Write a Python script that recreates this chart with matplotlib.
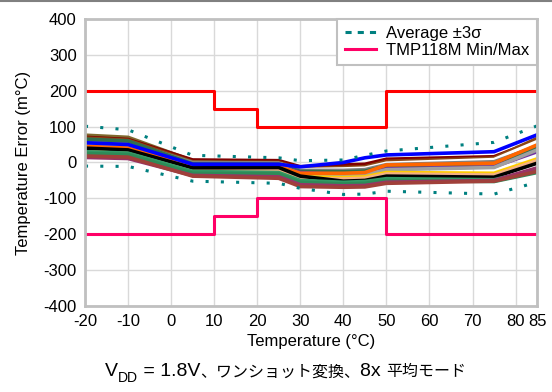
import matplotlib
matplotlib.use("Agg")
import matplotlib.pyplot as plt
from matplotlib.lines import Line2D

plt.rcParams['font.family'] = ['Liberation Sans', 'Noto Sans CJK JP']
plt.rcParams['axes.unicode_minus'] = False

# temperature points of the measured units
temps = [-20, -10, 5, 25, 30, 40, 45, 50, 75, 85]

# one line per device (m°C)
units = [
    ('#7f6a2e', [76, 70, 5, 3, -15, -15, -13, 0, 5, 55]),
    ('#800000', [70, 64, 7, 5, -12, -7, -5, 9, 16, 62]),
    ('#8b4513', [68, 62, 2, 0, -18, -14, -12, 3, 12, 67]),
    ('#ffffff', [58, 52, -2, -3, -20, -18, -16, -2, 8, 58]),
    ('#808080', [62, 56, 0, -2, -22, -22, -20, -6, 2, 45]),
    ('#2f6f4f', [65, 60, -4, -5, -25, -26, -24, -10, -3, 40]),
    ('#7030a0', [50, 45, -10, -10, -28, -33, -31, -18, -12, 30]),
    ('#a0a0a0', [52, 47, -8, -9, -32, -36, -34, -20, -14, 35]),
    ('#ff6600', [45, 40, -12, -12, -30, -30, -28, -7, -2, 49]),
    ('#ffcc00', [36, 32, -20, -22, -40, -42, -40, -28, -30, 10]),
    ('#f4b183', [30, 27, -18, -20, -45, -46, -44, -32, -35, 5]),
    ('#000000', [40, 35, -15, -14, -38, -52, -50, -38, -41, -2]),
    ('#339966', [30, 26, -25, -28, -50, -55, -53, -45, -48, -20]),
    ('#2e8b57', [25, 22, -30, -32, -55, -60, -58, -50, -53, -28]),
    ('#993366', [14, 11, -36, -40, -62, -65, -64, -55, -50, -15]),
    ('#a0403a', [18, 15, -38, -44, -67, -69, -68, -58, -52, -25]),
    ('#0000ff', [55, 50, -5, -5, -12, 0, 13, 21, 30, 77]),
]

avg_hi = [101, 91, 20, 13, 5, 7, 20, 32, 56, 102]
avg_lo = [-10, -11, -52, -58, -72, -89, -88, -80, -88, -55]

# TMP118M spec limits
lim_x = [-20, 10, 20, 50, 85]
lim_hi = [200, 150, 100, 200, 200]
lim_lo = [-200, -150, -100, -200, -200]

xticks = [-20, -10, 0, 10, 20, 30, 40, 50, 60, 70, 80, 85]
yticks = list(range(-400, 401, 100))

fig = plt.figure(figsize=(5.52, 3.92), dpi=100)
ax = fig.add_axes([0.154, 0.219, 0.819, 0.733])

for color, vals in units:
    ax.plot(temps, vals, color=color, lw=2.6, solid_joinstyle='round')

ax.plot(temps, avg_hi, color='#008080', lw=2.2, linestyle=(0, (1, 4)), dash_capstyle='butt')
ax.plot(temps, avg_lo, color='#008080', lw=2.2, linestyle=(0, (1, 4)), dash_capstyle='butt')

ax.plot(lim_x, lim_hi, color='#ff0000', lw=2.2, drawstyle='steps-post')
ax.plot(lim_x, lim_lo, color='#ff0066', lw=2.2, drawstyle='steps-post')

ax.set_xlim(-20, 85)
ax.set_ylim(-400, 400)
ax.set_xticks(xticks)
ax.set_yticks(yticks)
ax.tick_params(length=0, labelsize=12, pad=6)
ax.grid(True, color='#d9d9d9', lw=1)
ax.set_axisbelow(True)
for s in ax.spines.values():
    s.set_color('#c0c0c0')
    s.set_linewidth(2)

ax.set_xlabel('Temperature (°C)', fontsize=12, labelpad=3)
ax.set_ylabel('Temperature Error (m°C)', fontsize=12, labelpad=9)

handles = [
    Line2D([], [], color='#008080', lw=2.2, linestyle=(0, (2, 2))),
    Line2D([], [], color='#ff0066', lw=2.2),
]
leg = ax.legend(handles, ['Average ±3σ', 'TMP118M Min/Max'], loc='upper right',
                bbox_to_anchor=(1, 1), borderaxespad=0, fontsize=12,
                fancybox=False, framealpha=1, handlelength=1.9,
                labelspacing=0.1, borderpad=0.45, handletextpad=0.6)
leg.get_frame().set_edgecolor('#c0c0c0')
leg.get_frame().set_linewidth(1.5)

# caption, built piece by piece so the subscript and CJK sizes can differ
base_y = 0.04
pieces = [('DD', 10, -4), (' = 1.8V', 14, 0), ('、ワンショット変換、', 11.5, 0),
          ('8x ', 14, 0), ('平均モード', 11.5, 0)]
prev = fig.text(0.19, base_y, 'V', fontsize=14, va='baseline')
for txt, size, dy in pieces:
    prev = ax.annotate(txt, xy=(1, base_y), xycoords=(prev, 'figure fraction'),
                       xytext=(0, dy), textcoords='offset points',
                       fontsize=size, va='baseline')

fig.add_artist(Line2D([0, 1], [0.997, 0.997], color='#808080', lw=1.5,
                      transform=fig.transFigure))

fig.savefig('out.png', dpi=100)
